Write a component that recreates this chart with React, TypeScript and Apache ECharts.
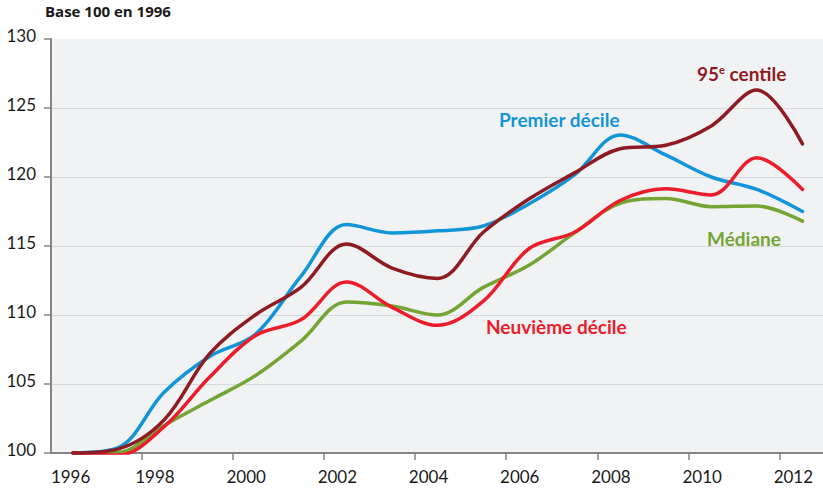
import React, { useEffect, useRef } from "react";
import * as echarts from "echarts";

const years = [1996, 1997, 1998, 1999, 2000, 2001, 2002, 2003, 2004, 2005, 2006, 2007, 2008, 2009, 2010, 2011, 2012];
const premierDecile = [100, 100.4, 104.4, 107.0, 108.6, 112.8, 116.55, 115.95, 116.1, 116.45, 118.05, 120.15, 123.05, 121.6, 120.0, 119.1, 117.5];
const centile95 = [100, 100.3, 102.4, 107.2, 110.0, 112.0, 115.15, 113.4, 112.65, 116.0, 118.4, 120.3, 122.05, 122.3, 123.7, 126.3, 122.4];
const neuviemeDecile = [100, 99.85, 101.9, 105.5, 108.5, 109.65, 112.4, 110.55, 109.25, 111.0, 114.8, 116.0, 118.3, 119.15, 118.7, 121.4, 119.1];
const mediane = [100, 100.05, 102.0, 103.8, 105.6, 108.1, 110.95, 110.65, 110.0, 112.0, 113.6, 115.95, 118.1, 118.45, 117.85, 117.9, 116.8];
const xTickLabels = [1996, 1998, 2000, 2002, 2004, 2006, 2008, 2010, 2012];
const xTickMarks = [1997.5, 1999.5, 2001.5, 2003.5, 2005.5, 2007.5, 2009.5, 2011.5];
const yTicks = [100, 105, 110, 115, 120, 125, 130];

const COLORS = {
  blue: "#1295d8",
  darkred: "#8e1b22",
  red: "#ec1c2a",
  green: "#74a534",
};

const FONT = "Lato, 'Open Sans', sans-serif";

function toPairs(vals: number[]) {
  return years.map((y, i) => [y, vals[i]]);
}

export default function App() {
  const ref = useRef<HTMLDivElement>(null);
  useEffect(() => {
    if (!ref.current) return;
    const chart = echarts.init(ref.current, null, { renderer: "svg" });
    const mkSeries = (name: string, vals: number[], color: string) => ({
      name,
      type: "line",
      data: toPairs(vals),
      smooth: 0.35,
      showSymbol: false,
      symbol: "none",
      lineStyle: { width: 3.5, color, cap: "round" },
      itemStyle: { color },
    });
    chart.setOption({
      animation: false,
      backgroundColor: "#ffffff",
      grid: {
        left: 51,
        right: 0,
        top: 39,
        bottom: 35,
        show: true,
        backgroundColor: "#f1f2f4",
        borderWidth: 0,
        containLabel: false,
        outerBoundsMode: "none",
      },
      xAxis: {
        type: "value",
        min: 1995.52,
        max: 2012.45,
        splitLine: { show: false },
        axisLine: { show: true, lineStyle: { color: "#858585", width: 2 } },
        axisTick: {
          show: true,
          length: 7,
          customValues: xTickMarks,
          lineStyle: { color: "#858585", width: 1.5 },
        },
        axisLabel: {
          customValues: xTickLabels.map((y) => (y === 1996 ? y - 0.05 : y - 0.2)),
          formatter: (v: number) => String(Math.round(v)),
          fontFamily: FONT,
          fontSize: 17,
          color: "#1a1a1a",
          margin: 15,
        },
      },
      yAxis: {
        type: "value",
        min: 100,
        max: 130,
        interval: 5,
        splitLine: { show: true, showMaxLine: false, lineStyle: { color: "#d8d9dc", width: 1.2 } },
        axisLine: { show: true, lineStyle: { color: "#858585", width: 2 } },
        axisTick: { show: true, length: 7, lineStyle: { color: "#858585", width: 1.5 } },
        axisLabel: {
          customValues: yTicks,
          fontFamily: FONT,
          fontSize: 17,
          color: "#1a1a1a",
          margin: 15,
          verticalAlign: "bottom",
          lineHeight: 8,
        },
      },
      series: [
        mkSeries("Médiane", mediane, COLORS.green),
        mkSeries("Premier décile", premierDecile, COLORS.blue),
        mkSeries("Neuvième décile", neuviemeDecile, COLORS.red),
        mkSeries("95e centile", centile95, COLORS.darkred),
      ],
      graphic: [
        {
          type: "text",
          left: 45,
          top: 3,
          style: {
            text: "Base 100 en 1996",
            font: "bold 15px 'Open Sans', sans-serif",
            fill: "#1a1a1a",
          },
        },
        {
          type: "text",
          x: 499,
          y: 119,
          style: {
            text: "Premier décile",
            font: `bold 19px ${FONT}`,
            fill: COLORS.blue,
            textVerticalAlign: "middle",
          },
        },
        {
          type: "text",
          x: 697,
          y: 73,
          style: {
            text: "{a|95}{s|e}{a| centile}",
            textVerticalAlign: "middle",
            rich: {
              a: { fontFamily: FONT, fontWeight: "bold", fontSize: 19, fill: COLORS.darkred, color: COLORS.darkred },
              s: { fontFamily: FONT, fontWeight: "bold", fontSize: 11, fill: COLORS.darkred, color: COLORS.darkred, verticalAlign: "top", padding: [0, 0, 8, 0] },
            },
          },
        },
        {
          type: "text",
          x: 707,
          y: 238,
          style: {
            text: "Médiane",
            font: `bold 19px ${FONT}`,
            fill: COLORS.green,
            textVerticalAlign: "middle",
          },
        },
        {
          type: "text",
          x: 486,
          y: 326,
          style: {
            text: "Neuvième décile",
            font: `bold 19px ${FONT}`,
            fill: COLORS.red,
            textVerticalAlign: "middle",
          },
        },
      ],
    });
    return () => chart.dispose();
  }, []);
  return (
    <div
      ref={ref}
      style={{ position: "fixed", left: 0, top: 0, width: 823, height: 488 }}
    />
  );
}
